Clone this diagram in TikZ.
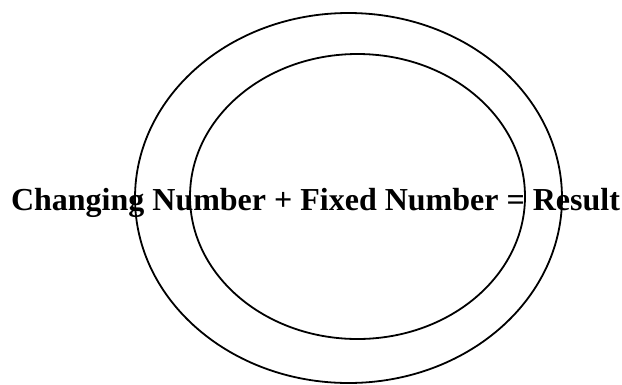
\documentclass[tikz,border=0pt]{standalone}
\usepackage{fontspec}
\setmainfont{Liberation Serif}
\usepackage{tikz}
\usetikzlibrary{shapes.geometric}

\begin{document}
\begin{tikzpicture}[x=1pt,y=-1pt]
\useasboundingbox (0,0) rectangle (622,384);
\node[draw=black,line width=1.8pt,ellipse,inner sep=0pt,minimum width=427pt,minimum height=370pt] (outer) at (348.5,198) {};
\node[draw=black,line width=1.8pt,ellipse,inner sep=0pt,minimum width=335pt,minimum height=285pt] (inner) at (357.5,196.5) {};
\node[anchor=base,inner sep=0pt,font=\bfseries\fontsize{32}{36}\selectfont] (eqn) at (315.5,210) {Changing Number + Fixed Number = Result};
\end{tikzpicture}
\end{document}
